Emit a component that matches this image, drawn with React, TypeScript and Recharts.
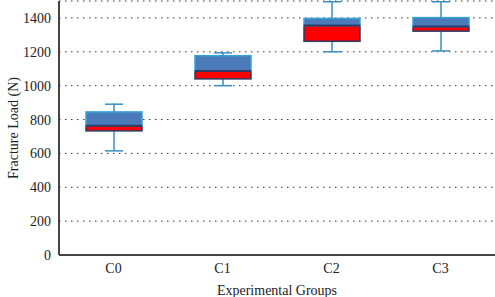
import { ComposedChart, Bar, XAxis, YAxis, CartesianGrid } from 'recharts'

const groups = ['C0', 'C1', 'C2', 'C3']
const minVals = [615, 1000, 1200, 1205]
const q1Vals = [733, 1040, 1262, 1322]
const medianVals = [764, 1086, 1355, 1349]
const q3Vals = [845, 1177, 1397, 1402]
const maxVals = [895, 1198, 1500, 1500]
const yTicks = [0, 200, 400, 600, 800, 1000, 1200, 1400]

const FONT = '"Liberation Serif", "DejaVu Serif", serif'
const WHISKER = '#3a8ec0'

const data = groups.map((g, i) => ({
  group: g,
  base: minVals[i],
  lowW: q1Vals[i] - minVals[i],
  lower: medianVals[i] - q1Vals[i],
  upper: q3Vals[i] - medianVals[i],
  upW: maxVals[i] - q3Vals[i],
}))

function LowWhisker(props: any) {
  const { x, y, width, height } = props
  const cx = x + width / 2
  return (
    <g>
      <line x1={cx} x2={cx} y1={y} y2={y + height} stroke={WHISKER} strokeWidth={1.5} />
      <line x1={cx - 9} x2={cx + 9} y1={y + height} y2={y + height} stroke={WHISKER} strokeWidth={1.5} />
    </g>
  )
}

function UpWhisker(props: any) {
  const { x, y, width, height } = props
  const cx = x + width / 2
  return (
    <g>
      <line x1={cx} x2={cx} y1={y} y2={y + height} stroke={WHISKER} strokeWidth={1.5} />
      <line x1={cx - 9} x2={cx + 9} y1={y + 0.75} y2={y + 0.75} stroke={WHISKER} strokeWidth={1.5} />
    </g>
  )
}

function LowerBox(props: any) {
  const { x, y, width, height } = props
  return <rect x={x} y={y} width={width} height={height} fill="#ff0000" stroke="#2e3a66" strokeWidth={1.5} />
}

function UpperBox(props: any) {
  const { x, y, width, height } = props
  return (
    <g>
      <rect x={x} y={y} width={width} height={height} fill="#4a7ab8" stroke="#36a3d6" strokeWidth={1.5} />
      <line x1={x} x2={x + width} y1={y + height} y2={y + height} stroke="#2e3a66" strokeWidth={2} />
    </g>
  )
}

export default function App() {
  return (
    <div style={{ position: 'absolute', left: 0, top: 0 }}>
      <ComposedChart
        width={495}
        height={297}
        data={data}
        margin={{ top: 1, right: 0, left: 0, bottom: 0 }}
        barSize={56}
      >
        <CartesianGrid vertical={false} stroke="#333" strokeDasharray="1.5 4.5" />
        <XAxis
          dataKey="group"
          height={42}
          tickLine={false}
          axisLine={{ stroke: '#444', strokeWidth: 2 }}
          tick={{ fill: '#222', fontSize: 14, fontFamily: FONT }}
          label={{ value: 'Experimental Groups', position: 'insideBottom', offset: 2, fill: '#222', fontSize: 14, fontFamily: FONT }}
        />
        <YAxis
          width={59}
          domain={[0, 1500]}
          ticks={yTicks}
          tickLine={false}
          axisLine={{ stroke: '#444', strokeWidth: 2 }}
          tick={{ fill: '#222', fontSize: 14, fontFamily: FONT }}
          label={{ value: 'Fracture Load (N)', angle: -90, position: 'insideLeft', offset: 13, fill: '#222', fontSize: 14, fontFamily: FONT, style: { textAnchor: 'middle' } }}
        />
        <Bar dataKey="base" stackId="box" fill="transparent" isAnimationActive={false} />
        <Bar dataKey="lowW" stackId="box" shape={LowWhisker} isAnimationActive={false} />
        <Bar dataKey="lower" stackId="box" shape={LowerBox} isAnimationActive={false} />
        <Bar dataKey="upper" stackId="box" shape={UpperBox} isAnimationActive={false} />
        <Bar dataKey="upW" stackId="box" shape={UpWhisker} isAnimationActive={false} />
      </ComposedChart>
    </div>
  )
}
